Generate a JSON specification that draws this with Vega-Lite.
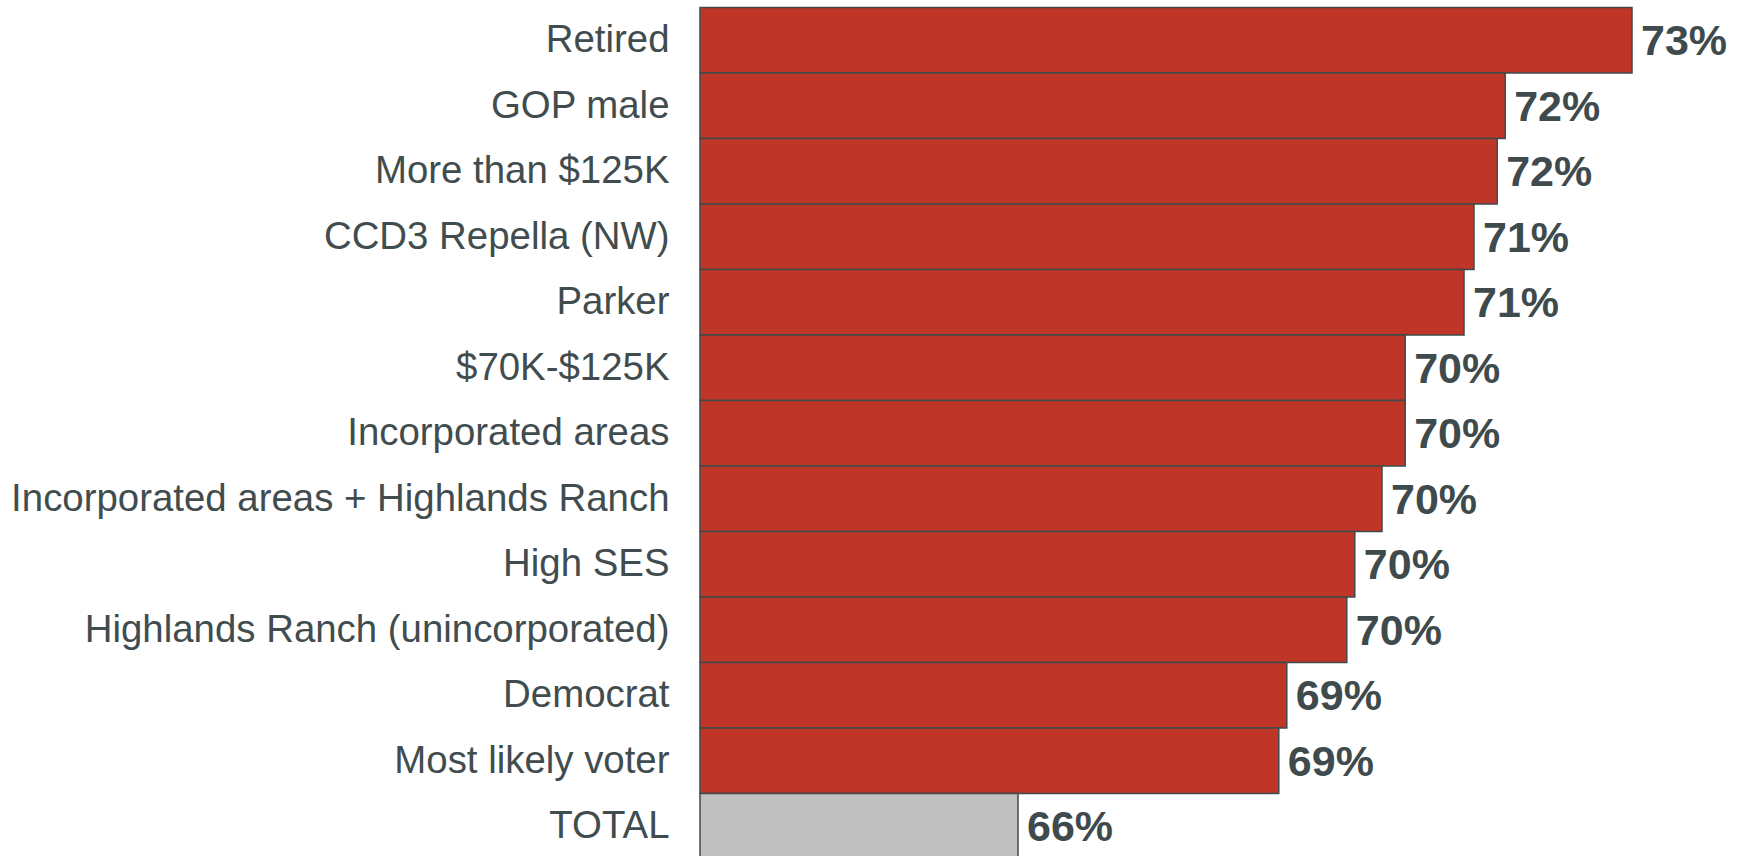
{
  "$schema": "https://vega.github.io/schema/vega-lite/v6.json",
  "width": 1039,
  "height": 851.5,
  "autosize": "none",
  "padding": {"left": 700, "top": 7.5, "right": 0, "bottom": 0},
  "background": "white",
  "config": {"view": {"stroke": null}},
  "data": {
    "values": [
      {"group": "Retired", "value": 73.275, "label": "73%", "kind": "segment"},
      {"group": "GOP male", "value": 71.69, "label": "72%", "kind": "segment"},
      {"group": "More than $125K", "value": 71.59, "label": "72%", "kind": "segment"},
      {"group": "CCD3 Repella (NW)", "value": 71.3, "label": "71%", "kind": "segment"},
      {"group": "Parker", "value": 71.175, "label": "71%", "kind": "segment"},
      {"group": "$70K-$125K", "value": 70.44, "label": "70%", "kind": "segment"},
      {"group": "Incorporated areas", "value": 70.44, "label": "70%", "kind": "segment"},
      {"group": "Incorporated areas + Highlands Ranch", "value": 70.15, "label": "70%", "kind": "segment"},
      {"group": "High SES", "value": 69.81, "label": "70%", "kind": "segment"},
      {"group": "Highlands Ranch (unincorporated)", "value": 69.71, "label": "70%", "kind": "segment"},
      {"group": "Democrat", "value": 68.96, "label": "69%", "kind": "segment"},
      {"group": "Most likely voter", "value": 68.86, "label": "69%", "kind": "segment"},
      {"group": "TOTAL", "value": 65.6, "label": "66%", "kind": "total"}
    ]
  },
  "encoding": {
    "y": {
      "field": "group",
      "type": "nominal",
      "sort": null,
      "scale": {"paddingInner": 0, "paddingOuter": 0},
      "axis": {
        "title": null,
        "domain": false,
        "ticks": false,
        "labelPadding": 31,
        "labelFontSize": 38.4,
        "labelFont": "Liberation Sans, Arial, sans-serif",
        "labelColor": "#414c4e",
        "labelLimit": 0
      }
    }
  },
  "layer": [
    {
      "mark": {"type": "bar", "stroke": "#404a4b", "strokeWidth": 1.5},
      "encoding": {
        "x": {
          "field": "value",
          "type": "quantitative",
          "scale": {"domain": [61.625, 74.6125], "zero": false, "nice": false},
          "axis": null
        },
        "x2": {"datum": 61.625},
        "color": {
          "field": "kind",
          "type": "nominal",
          "scale": {"domain": ["segment", "total"], "range": ["#bf3628", "#c0c0c0"]},
          "legend": null
        }
      }
    },
    {
      "mark": {
        "type": "text",
        "align": "left",
        "baseline": "middle",
        "dx": 9,
        "dy": 2,
        "font": "Liberation Sans, Arial, sans-serif",
        "fontWeight": "bold",
        "fontSize": 43,
        "fill": "#3e4a4c"
      },
      "encoding": {
        "x": {"field": "value", "type": "quantitative"},
        "text": {"field": "label"}
      }
    }
  ]
}
